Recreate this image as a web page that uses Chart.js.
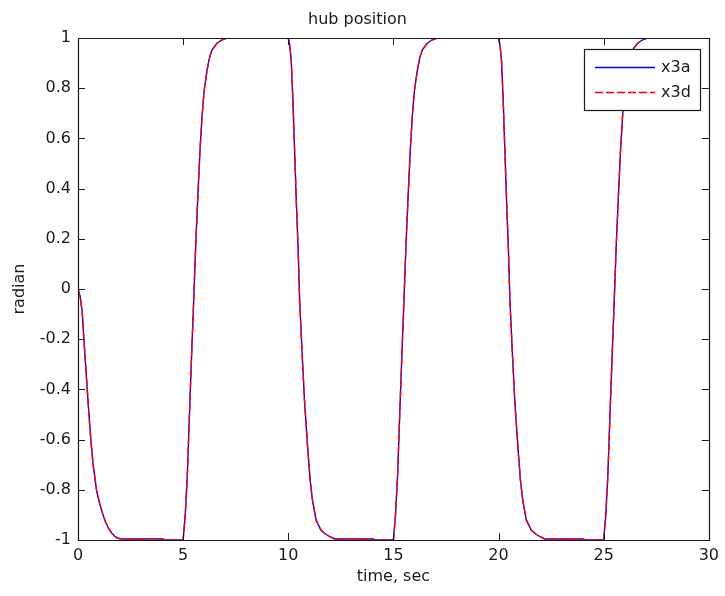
<!DOCTYPE html>
<html>
<head>
<meta charset="utf-8">
<script src="https://cdn.jsdelivr.net/npm/chart.js@4/dist/chart.umd.min.js"></script>
<style>
  html, body { margin: 0; padding: 0; background: #ffffff; }
  #wrap { width: 725px; height: 596px; }
</style>
</head>
<body>
<div id="wrap"><canvas id="c" width="725" height="596"></canvas></div>
<script>
// ---- data ----
const time = [
  0, 0.1, 0.2, 0.28, 0.36, 0.44, 0.52, 0.61, 0.72, 0.88, 1.0, 1.1, 1.19, 1.32, 1.46, 1.6, 1.74, 1.9, 2.1, 3.0, 4.05, 4.1,
  5.0, 5.1, 5.2, 5.3, 5.4, 5.5, 5.6, 5.7, 5.8, 5.9, 6.0, 6.14, 6.25, 6.37, 6.6, 6.83, 7.07, 8.0, 9.0, 9.95,
  10.0, 10.07, 10.14, 10.22, 10.3, 10.38, 10.47, 10.54, 10.65, 10.77, 10.93, 11.04, 11.15, 11.32, 11.55, 11.8, 12.0, 12.2, 13.0, 14.05, 14.1,
  15.0, 15.1, 15.2, 15.3, 15.4, 15.5, 15.6, 15.7, 15.8, 15.9, 16.0, 16.14, 16.25, 16.37, 16.6, 16.83, 17.07, 18.0, 19.0, 19.95,
  20.0, 20.07, 20.14, 20.22, 20.3, 20.38, 20.47, 20.54, 20.65, 20.77, 20.93, 21.04, 21.15, 21.32, 21.55, 21.8, 22.0, 22.2, 23.0, 24.05, 24.1,
  25.0, 25.1, 25.2, 25.3, 25.4, 25.5, 25.6, 25.7, 25.8, 25.9, 26.0, 26.14, 26.25, 26.37, 26.6, 26.83, 27.07
];
const x3a = [
  0, -0.03, -0.09, -0.2, -0.3, -0.4, -0.5, -0.6, -0.7, -0.8, -0.845, -0.875, -0.9, -0.93, -0.955, -0.972, -0.985, -0.993, -0.996, -0.996, -0.996, -1,
  -1, -0.9, -0.74, -0.5, -0.27, -0.05, 0.18, 0.37, 0.55, 0.69, 0.79, 0.873, 0.92, 0.952, 0.978, 0.992, 1, 1, 1, 1,
  1, 0.97, 0.912, 0.753, 0.554, 0.355, 0.155, -0.044, -0.243, -0.442, -0.641, -0.761, -0.841, -0.92, -0.96, -0.978, -0.988, -0.996, -0.996, -0.996, -1,
  -1, -0.9, -0.74, -0.5, -0.27, -0.05, 0.18, 0.37, 0.55, 0.69, 0.79, 0.873, 0.92, 0.952, 0.978, 0.992, 1, 1, 1, 1,
  1, 0.97, 0.912, 0.753, 0.554, 0.355, 0.155, -0.044, -0.243, -0.442, -0.641, -0.761, -0.841, -0.92, -0.96, -0.978, -0.988, -0.996, -0.996, -0.996, -1,
  -1, -0.9, -0.74, -0.5, -0.27, -0.05, 0.18, 0.37, 0.55, 0.69, 0.79, 0.873, 0.92, 0.952, 0.978, 0.992, 1
];
const x3d = [
  0, -0.03, -0.09, -0.2, -0.3, -0.4, -0.5, -0.6, -0.7, -0.8, -0.845, -0.875, -0.9, -0.93, -0.955, -0.972, -0.985, -0.993, -0.996, -0.996, -0.996, -1,
  -1, -0.9, -0.74, -0.5, -0.27, -0.05, 0.18, 0.37, 0.55, 0.69, 0.79, 0.873, 0.92, 0.952, 0.978, 0.992, 1, 1, 1, 1,
  1, 0.97, 0.912, 0.753, 0.554, 0.355, 0.155, -0.044, -0.243, -0.442, -0.641, -0.761, -0.841, -0.92, -0.96, -0.978, -0.988, -0.996, -0.996, -0.996, -1,
  -1, -0.9, -0.74, -0.5, -0.27, -0.05, 0.18, 0.37, 0.55, 0.69, 0.79, 0.873, 0.92, 0.952, 0.978, 0.992, 1, 1, 1, 1,
  1, 0.97, 0.912, 0.753, 0.554, 0.355, 0.155, -0.044, -0.243, -0.442, -0.641, -0.761, -0.841, -0.92, -0.96, -0.978, -0.988, -0.996, -0.996, -0.996, -1,
  -1, -0.9, -0.74, -0.5, -0.27, -0.05, 0.18, 0.37, 0.55, 0.69, 0.79, 0.873, 0.92, 0.952, 0.978, 0.992, 1
];
const seriesNames = ['x3a', 'x3d'];
const xTicks = [0, 5, 10, 15, 20, 25, 30];
const yTicks = [-1, -0.8, -0.6, -0.4, -0.2, 0, 0.2, 0.4, 0.6, 0.8, 1];
const titleText = 'hub position';
const xTitle = 'time, sec';
const yTitle = 'radian';

// ---- rendering ----
const FONT = 'DejaVu Sans';
const TXT = '#1a1a1a';
const TICKLEN = 7;
const LW = 1.4;
const DASH = [8, 3];

const toPts = (ys) => time.map((t, i) => ({ x: t, y: ys[i] }));

const axesBox = {
  id: 'axesBox',
  beforeDraw(chart) {
    const c = chart.ctx;
    c.save();
    c.fillStyle = '#ffffff';
    c.fillRect(0, 0, chart.width, chart.height);
    c.restore();
  },
  afterDatasetsDraw(chart) {
    const c = chart.ctx;
    const a = chart.chartArea;
    const xs = chart.scales.x, ys = chart.scales.y;
    c.save();
    c.strokeStyle = '#1a1a1a';
    c.lineWidth = 1.2;
    c.beginPath();
    c.rect(Math.round(a.left) + 0.5, Math.round(a.top) + 0.5,
           Math.round(a.right - a.left), Math.round(a.bottom - a.top));
    c.stroke();
    c.lineWidth = 1;
    c.beginPath();
    xTicks.forEach(v => {
      const px = Math.round(xs.getPixelForValue(v)) + 0.5;
      c.moveTo(px, a.bottom); c.lineTo(px, a.bottom - TICKLEN);
      c.moveTo(px, a.top); c.lineTo(px, a.top + TICKLEN);
    });
    yTicks.forEach(v => {
      const py = Math.round(ys.getPixelForValue(v)) + 0.5;
      c.moveTo(a.left, py); c.lineTo(a.left + TICKLEN, py);
      c.moveTo(a.right, py); c.lineTo(a.right - TICKLEN, py);
    });
    c.stroke();

    // legend box inside the axes (top-right)
    const lx = 584, ly = 49, lw = 116, lh = 61;
    c.fillStyle = '#ffffff';
    c.fillRect(lx, ly, lw, lh);
    c.strokeStyle = '#1a1a1a';
    c.lineWidth = 1.2;
    c.strokeRect(lx + 0.5, ly + 0.5, lw, lh);
    const rows = [ly + 18.5, ly + 43.5];
    const sets = chart.data.datasets;
    sets.forEach((ds, i) => {
      c.beginPath();
      c.strokeStyle = ds.borderColor;
      c.lineWidth = LW;
      c.setLineDash(ds.borderDash || []);
      c.moveTo(lx + 11, rows[i]);
      c.lineTo(lx + 71, rows[i]);
      c.stroke();
      c.setLineDash([]);
      c.fillStyle = TXT;
      c.font = '16px "' + FONT + '"';
      c.textBaseline = 'middle';
      c.textAlign = 'left';
      c.fillText(ds.label, lx + 77, rows[i]);
    });
    c.restore();
  }
};

new Chart(document.getElementById('c'), {
  type: 'line',
  data: {
    datasets: [
      { label: seriesNames[0], data: toPts(x3a), borderColor: '#0000ff', borderWidth: LW,
        pointRadius: 0, tension: 0, fill: false, order: 2 },
      { label: seriesNames[1], data: toPts(x3d), borderColor: '#ff0000', borderWidth: LW,
        borderDash: DASH, pointRadius: 0, tension: 0, fill: false, order: 1 }
    ]
  },
  options: {
    responsive: false,
    animation: false,
    devicePixelRatio: 1,
    layout: { padding: { left: 0, right: 10, top: 0, bottom: 0 } },
    plugins: {
      legend: { display: false },
      tooltip: { enabled: false },
      title: {
        display: true, text: titleText, color: TXT,
        font: { family: FONT, size: 16, weight: 'normal' },
        padding: { top: 10, bottom: 8.8 }
      }
    },
    scales: {
      x: {
        type: 'linear', min: 0, max: 30,
        grid: { display: false, drawTicks: false },
        border: { display: false },
        afterBuildTicks: s => { s.ticks = xTicks.map(v => ({ value: v })); },
        afterFit: s => { s.height = 56; },
        ticks: { color: TXT, font: { family: FONT, size: 16 }, padding: 6,
                 maxRotation: 0, autoSkip: false, callback: v => String(v) },
        title: { display: true, text: xTitle, color: TXT,
                 font: { family: FONT, size: 16 }, padding: { top: 0, bottom: 9.4 } }
      },
      y: {
        type: 'linear', min: -1, max: 1,
        grid: { display: false, drawTicks: false },
        border: { display: false },
        afterBuildTicks: s => { s.ticks = yTicks.map(v => ({ value: v })); },
        afterFit: s => { s.width = 78; },
        ticks: { color: TXT, font: { family: FONT, size: 16 }, padding: 7,
                 autoSkip: false, callback: v => String(Math.round(v * 10) / 10) },
        title: { display: true, text: yTitle, color: TXT,
                 font: { family: FONT, size: 16 }, padding: { top: 10.4, bottom: 0 } }
      }
    }
  },
  plugins: [axesBox]
});
</script>
</body>
</html>
